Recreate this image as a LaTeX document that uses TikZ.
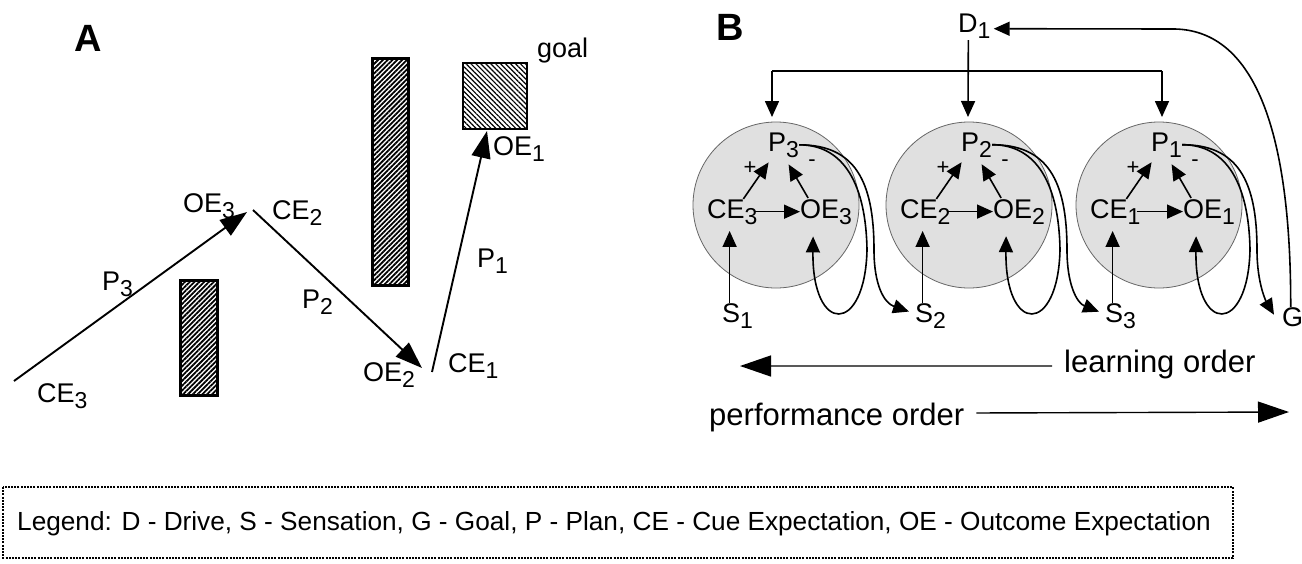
\documentclass[tikz,border=0pt]{standalone}
\usepackage{fontspec}
\setmainfont{Liberation Sans}
\usetikzlibrary{arrows.meta,patterns.meta,calc}
\newcommand{\fsz}[1]{\fontsize{#1}{#1}\selectfont}
\newcommand{\lab}[2]{#1\raisebox{-6pt}{\fsz{23}#2}}
\begin{document}
\begin{tikzpicture}[x=1pt,y=-1pt,font=\fsz{27},
  lbl/.style={anchor=base west,inner sep=0pt},
  arrA/.style={line width=1.9pt,-{Triangle[length=27pt,width=19pt]}},
  arrB/.style={line width=1.6pt,-{Triangle[length=16pt,width=14pt]}},
  arrL/.style={line width=1.4pt,-{Triangle[length=31pt,width=21pt]}},
  ln/.style={line width=1.6pt},
  circ/.style={circle,fill=black!12,draw=black!60,line width=0.8pt,minimum size=166pt,inner sep=0pt},
  wall/.style={line width=3pt,pattern={Lines[angle=45,distance=3.4pt,line width=1.8pt]}},
  goalbox/.style={line width=2.6pt,pattern={Lines[angle=-45,distance=3.5pt,line width=1.2pt]}},
  legbox/.style={line width=1.3pt,dash pattern=on 2pt off 1.2pt}]
\useasboundingbox (0,0) rectangle (1302,563);
\fill[white] (0,0) rectangle (1302,563);

% ---------------- Panel A ----------------
\node[font=\fsz{38}\bfseries] (labA) at (88,38) {A};
\draw[wall] (180,280) rectangle (217,395);
\draw[wall] (372,58) rectangle (408,285);
\draw[goalbox] (463,63) rectangle (527,129);

\coordinate (a0) at (14,381);
\coordinate (a1) at (247,212);
\coordinate (a2) at (253,210);
\coordinate (a3) at (422,368);
\coordinate (a4) at (432,372);
\coordinate (a5) at (487,131);
\draw[arrA] (a0) -- (a1);
\draw[arrA] (a2) -- (a3);
\draw[arrA] (a4) -- (a5);

\node[lbl] (ce3a) at (37,402) {\lab{CE}{3}};
\node[lbl] (p3a)  at (102,290) {\lab{P}{3}};
\node[lbl] (oe3a) at (183,212) {\lab{OE}{3}};
\node[lbl] (ce2a) at (272,219) {\lab{CE}{2}};
\node[lbl] (p2a)  at (302,308) {\lab{P}{2}};
\node[lbl] (oe2a) at (363,381) {\lab{OE}{2}};
\node[lbl] (ce1a) at (448,372) {\lab{CE}{1}};
\node[lbl] (p1a)  at (477,267) {\lab{P}{1}};
\node[lbl] (oe1a) at (493,155) {\lab{OE}{1}};
\node[lbl] (goal) at (537,57) {goal};

% ---------------- Panel B ----------------
\node[font=\fsz{38}\bfseries] (labB) at (730,27) {B};

\foreach \i/\cx/\k in {1/776/3,2/969/2,3/1159/1}{
  \node[circ] (C\i) at (\cx,205) {};
  \node[lbl] (P\i)  at (\cx-8,151) {\lab{P}{\k}};
  \node[lbl] (CE\i) at (\cx-69,218) {\lab{CE}{\k}};
  \node[lbl] (OE\i) at (\cx+24,218) {\lab{OE}{\k}};
  \node[lbl] (S\i)  at (\cx-54,322) {\lab{S}{\i}};
  \node[font=\fsz{22},inner sep=0pt] (pl\i) at (\cx-26,168) {+};
  \node[font=\fsz{22},inner sep=0pt] (mi\i) at (\cx+36,163) {-};
  \draw[arrB] ($(CE\i.north)+(11,0)$) -- ($(P\i.south)+(-15,5)$);
  \draw[arrB] ($(OE\i.north)+(-18,-1)$) -- ($(P\i.south)+(5,7)$);
  \draw[arrB] ($(CE\i.east)+(-4,0)$) -- (OE\i.west);
  \draw[arrB] ($(S\i.north)+(-8,0)$) -- ++(0,-72);
}

\node[lbl] (D1) at (958,32) {\lab{D}{1}};
\node[lbl] (G) at (1282,326) {G};

\foreach \i/\cx/\nx/\ox/\oy in {1/776/S2/-6/-4,2/969/S3/-6/-4,3/1159/G/-8/-2}{
  % plan output to next sensation
  \draw[arrB] (P\i.east) .. controls +(55,0) and (\cx+98,180) .. (\cx+98,250)
        .. controls (\cx+98,285) and (\cx+108,303) .. ([xshift=\ox pt,yshift=-\oy pt]\nx.west);
  % plan output looped back to outcome expectation
  \draw[arrB] (P\i.east) .. controls +(45,0) and (\cx+90,185) .. (\cx+91,250)
        .. controls (\cx+89,335) and (\cx+36,335) .. ($(OE\i.south)+(-13,12)$);
}

\coordinate (hl) at (772,71);
\coordinate (hr) at (1162,71);
\coordinate (t1) at (772,117);
\coordinate (t2) at (968,117);
\coordinate (t3) at (1162,117);
\draw[ln] (hl) -- (hr);
\draw[arrB] (hl) -- (t1);
\draw[arrB] (hr) -- (t3);
\draw[arrB] ($(D1.south)+(-6,2)$) -- (t2);
\draw[arrB] ($(G.north)+(-2,0)$) .. controls (1291,150) and (1262,31) .. (1175,29)
      -- ($(D1.east)+(3,3)$);

\node[lbl,font=\fsz{31}] (learn) at (1064,372) {learning order};
\node[lbl,font=\fsz{31}] (perf) at (709,425) {performance order};
\coordinate (lt) at (740,366);
\coordinate (pt) at (1289,412);
\draw[arrL] ($(learn.west)+(-12,2)$) -- (lt);
\draw[arrL] ($(perf.east)+(12,-4)$) -- (pt);

% ---------------- Legend ----------------
\draw[legbox] (3,487) rectangle (1233,558);
\node[lbl,font=\fsz{26.2}] (leg) at (17,530) {Legend: D - Drive, S - Sensation, G - Goal, P - Plan, CE - Cue Expectation, OE - Outcome Expectation};
\end{tikzpicture}
\end{document}
